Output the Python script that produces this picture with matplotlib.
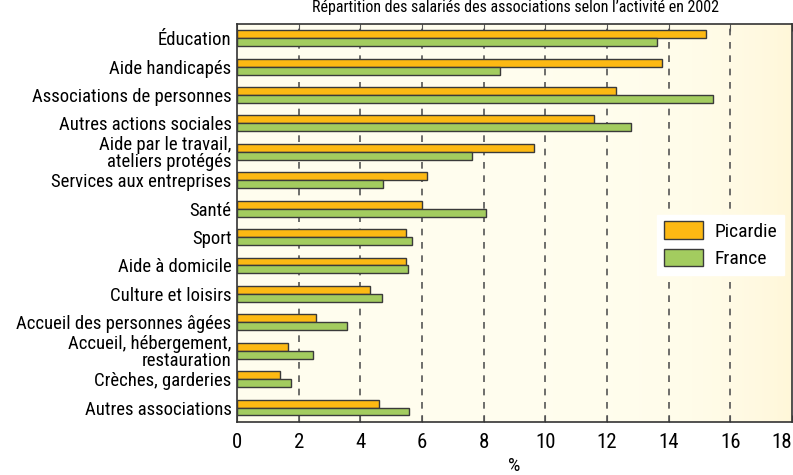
import numpy as np
import matplotlib
matplotlib.use("Agg")
import matplotlib.pyplot as plt
from matplotlib.patches import Patch
from matplotlib import font_manager as fm

categories = ["Éducation", "Aide handicapés", "Associations de personnes",
              "Autres actions sociales", "Aide par le travail,\nateliers protégés",
              "Services aux entreprises", "Santé", "Sport", "Aide à domicile",
              "Culture et loisirs", "Accueil des personnes âgées",
              "Accueil, hébergement,\nrestauration", "Crèches, garderies",
              "Autres associations"]
picardie = [15.2, 13.77, 12.3, 11.57, 9.62, 6.15, 6.01, 5.49, 5.47, 4.3, 2.55, 1.64, 1.38, 4.62]
france = [13.62, 8.53, 15.43, 12.77, 7.61, 4.75, 8.09, 5.66, 5.54, 4.69, 3.57, 2.45, 1.76, 5.59]
xticks = [0, 2, 4, 6, 8, 10, 12, 14, 16, 18]

names = {f.name for f in fm.fontManager.ttflist}
fam = [f for f in ["Roboto Condensed", "Liberation Sans Narrow", "Liberation Sans", "DejaVu Sans"] if f in names]
plt.rcParams['font.family'] = fam

fig = plt.figure(figsize=(7.93, 4.75), dpi=100)
fig.patch.set_facecolor("white")
ax = fig.add_axes([0.2989, 0.1122, 0.6998, 0.8373])

# gradient background
grad = np.linspace(0, 1, 256)
g = grad ** 7
c0 = np.array([1.0, 0.995, 0.935])
c1 = np.array([1.0, 0.968, 0.85])
img = c0[None, :] * (1 - g[:, None]) + c1[None, :] * g[:, None]
ax.imshow(img[None, :, :], extent=[0, 18, -0.5, len(categories) - 0.5], aspect='auto', zorder=0)

n = len(categories)
y = np.arange(n)
h = 0.28
ax.barh(y - h / 2, picardie, height=h, color="#FDB913", edgecolor="#3a3a3a", linewidth=1.0, zorder=3, label="Picardie")
ax.barh(y + h / 2, france, height=h, color="#A3CC5F", edgecolor="#3a3a3a", linewidth=1.0, zorder=3, label="France")

ax.set_xlim(0, 18)
ax.set_ylim(n - 0.5, -0.5)
ax.set_xticks(xticks)
ax.set_xticklabels([str(t) for t in xticks], fontsize=15)
ax.get_xticklabels()[-1].set_horizontalalignment('right')
ax.set_yticks(y)
ax.set_yticklabels(categories, fontsize=13.5, linespacing=0.92)
ax.tick_params(axis='y', length=0, pad=4)
ax.tick_params(axis='x', direction='in', length=5, color="#555555", top=True, pad=8)
for xv in xticks[1:-1]:
    ax.axvline(xv, color="#555555", linestyle=(0, (4, 4)), linewidth=1.2, zorder=2)
for s in ax.spines.values():
    s.set_color("#333333")
    s.set_linewidth(1.2)
ax.set_xlabel("%", fontsize=14, labelpad=4)

fig.text(0.65, 0.9995, "Répartition des salariés des associations selon l’activité en 2002",
         ha='center', va='top', fontsize=11.5)

handles = [Patch(facecolor="#FDB913", edgecolor="#3a3a3a", label="Picardie"),
           Patch(facecolor="#A3CC5F", edgecolor="#3a3a3a", label="France")]
leg = ax.legend(handles=handles, loc='upper left', bbox_to_anchor=(0.74, 0.545),
                fontsize=14, frameon=True, fancybox=False, handlelength=2.0, handleheight=1.0,
                borderpad=0.35, labelspacing=0.4, handletextpad=0.6)
leg.get_frame().set_edgecolor("white")
leg.get_frame().set_facecolor("white")
leg.get_frame().set_alpha(1)
leg.set_zorder(5)

fig.savefig("out.png", dpi=100)
